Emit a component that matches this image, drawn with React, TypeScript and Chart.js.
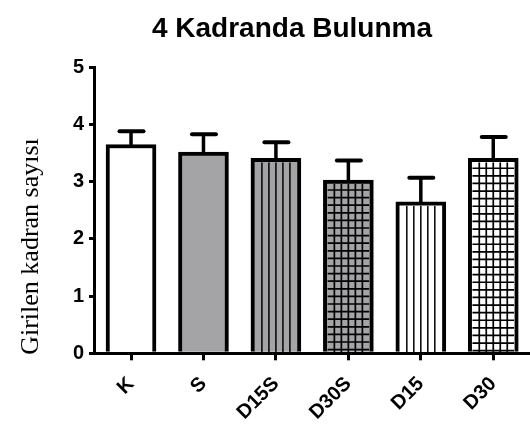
import React, { useEffect, useRef } from "react";
import { Chart, registerables } from "chart.js";

Chart.register(...registerables);

// Group means with their upper error (SEM)
const groups = ["K", "S", "D15S", "D30S", "D15", "D30"];
const means = [3.65, 3.52, 3.41, 3.03, 2.65, 3.41];
const sem = [0.23, 0.31, 0.28, 0.34, 0.42, 0.37];
const yTicks = [0, 1, 2, 3, 4, 5];

const titleText = "4 Kadranda Bulunma";
const yTitleText = "Girilen kadran sayısı";

// Bar appearance
const GRAY = "#a4a4a7";
const fills = ["#ffffff", GRAY, GRAY, GRAY, "#ffffff", "#ffffff"];
const hatches = ["none", "none", "vertical", "grid", "vertical", "grid"];
const BAR_BORDER = 4;

const SANS = "'Liberation Sans', Arial, Helvetica, sans-serif";
const SERIF = "'Liberation Serif', 'Times New Roman', serif";

const hatchPlugin = {
  id: "hatchFill",
  afterDatasetsDraw(chart: any) {
    const ctx = chart.ctx as CanvasRenderingContext2D;
    const meta = chart.getDatasetMeta(0);
    const base = chart.scales.y.getPixelForValue(0);
    meta.data.forEach((bar: any, i: number) => {
      const kind = hatches[i];
      if (kind === "none") return;
      const { x, y, width } = bar.getProps(["x", "y", "width"], true);
      const left = x - width / 2 + BAR_BORDER;
      const right = x + width / 2 - BAR_BORDER;
      const top = y + BAR_BORDER;
      const bottom = base;
      ctx.save();
      ctx.beginPath();
      ctx.rect(left, top, right - left, bottom - top);
      ctx.clip();
      ctx.strokeStyle = "#000";
      ctx.lineWidth = kind === "grid" ? 1.7 : 1.5;
      ctx.beginPath();
      const cols = 6;
      const dx = (right - left) / cols;
      for (let k = 1; k < cols; k++) {
        const px = left + k * dx;
        ctx.moveTo(px, top);
        ctx.lineTo(px, bottom);
      }
      if (kind === "grid") {
        for (let py = top + 6; py < bottom; py += 7.6) {
          ctx.moveTo(left, py);
          ctx.lineTo(right, py);
        }
      }
      ctx.stroke();
      ctx.restore();
    });
  },
};

const errorBarPlugin = {
  id: "errorBars",
  afterDatasetsDraw(chart: any) {
    const ctx = chart.ctx as CanvasRenderingContext2D;
    const meta = chart.getDatasetMeta(0);
    const yScale = chart.scales.y;
    meta.data.forEach((bar: any, i: number) => {
      const { x, y } = bar.getProps(["x", "y"], true);
      const yTop = yScale.getPixelForValue(means[i] + sem[i]);
      ctx.save();
      ctx.strokeStyle = "#000";
      ctx.lineWidth = 3.5;
      ctx.beginPath();
      ctx.moveTo(x, y + 1);
      ctx.lineTo(x, yTop);
      ctx.stroke();
      ctx.lineWidth = 4;
      ctx.lineCap = "round";
      ctx.beginPath();
      ctx.moveTo(x - 11.5, yTop);
      ctx.lineTo(x + 12.5, yTop);
      ctx.stroke();
      ctx.restore();
    });
  },
};

const textPlugin = {
  id: "chartTexts",
  afterDraw(chart: any) {
    const ctx = chart.ctx as CanvasRenderingContext2D;
    ctx.save();
    ctx.fillStyle = "#000";
    ctx.font = `bold 28px ${SANS}`;
    ctx.textAlign = "center";
    ctx.textBaseline = "alphabetic";
    ctx.fillText(titleText, 292, 36.5);

    ctx.font = `26px ${SERIF}`;
    ctx.translate(37.5, 246.5);
    ctx.rotate(-Math.PI / 2);
    ctx.textAlign = "center";
    ctx.fillText(yTitleText, 0, 0);
    ctx.restore();
  },
};

export default function App() {
  const canvasRef = useRef<HTMLCanvasElement | null>(null);

  useEffect(() => {
    const canvas = canvasRef.current;
    if (!canvas) return;
    const tickFont = { family: SANS, size: 20, weight: "bold" as const };
    const chart = new Chart(canvas, {
      type: "bar",
      data: {
        datasets: [
          {
            data: groups.map((_, i) => ({ x: i, y: means[i] })) as any,
            backgroundColor: fills,
            borderColor: "#000",
            borderWidth: BAR_BORDER,
            borderSkipped: "start",
            barThickness: 50,
          },
        ],
      },
      options: {
        animation: false,
        responsive: false,
        devicePixelRatio: 1,
        layout: { padding: { top: 67.3, left: 0, right: 0, bottom: 0 } },
        plugins: {
          legend: { display: false },
          tooltip: { enabled: false },
          title: { display: false },
        },
        scales: {
          x: {
            type: "linear",
            min: -0.511,
            max: 5.507,
            offset: false,
            z: 1,
            afterBuildTicks: (s: any) => {
              s.ticks = groups.map((_, i) => ({ value: i }));
            },
            afterFit: (s: any) => {
              s.height = 71.7;
              s.paddingLeft = 0;
              s.paddingRight = 0;
            },
            grid: {
              offset: false,
              drawOnChartArea: false,
              drawTicks: true,
              tickLength: 7,
              lineWidth: 3,
              color: "#000",
            },
            border: { display: true, width: 3, color: "#000" },
            ticks: {
              autoSkip: false,
              maxRotation: 45,
              minRotation: 45,
              padding: 12,
              color: "#000",
              font: tickFont,
              callback: (v: any) => groups[Math.round(Number(v))] ?? "",
            },
          },
          y: {
            min: 0,
            max: 5,
            afterBuildTicks: (s: any) => {
              s.ticks = yTicks.map((v) => ({ value: v }));
            },
            afterFit: (s: any) => {
              s.width = 94;
            },
            grid: {
              drawOnChartArea: false,
              drawTicks: true,
              tickLength: 5,
              lineWidth: 3,
              color: "#000",
            },
            border: { display: true, width: 3, color: "#000" },
            ticks: {
              padding: 5,
              color: "#000",
              font: tickFont,
            },
          },
        },
      },
      plugins: [hatchPlugin, errorBarPlugin, textPlugin],
    });
    return () => chart.destroy();
  }, []);

  return (
    <div
      style={{
        position: "fixed",
        left: 0,
        top: 0,
        width: 530,
        height: 425,
        background: "#fff",
      }}
    >
      <canvas ref={canvasRef} width={530} height={425} />
    </div>
  );
}
